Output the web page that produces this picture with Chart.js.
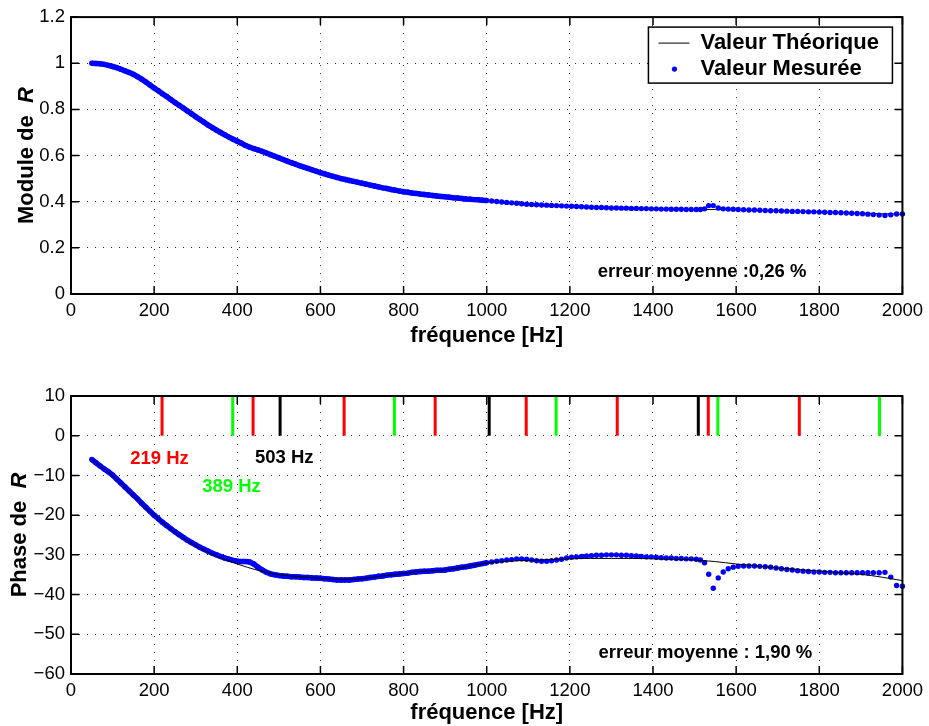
<!DOCTYPE html>
<html>
<head>
<meta charset="utf-8">
<title>Module et phase de R</title>
<script src="https://cdn.jsdelivr.net/npm/chart.js@4.4.1/dist/chart.umd.min.js"></script>
<style>
  html, body { margin: 0; padding: 0; background: #fff; }
  #wrap { position: relative; width: 929px; height: 726px; }
  canvas { position: absolute; left: 0; }
</style>
</head>
<body>
<div id="wrap">
  <canvas id="moduleChart" width="929" height="363" style="top:0"></canvas>
  <canvas id="phaseChart" width="929" height="363" style="top:363px"></canvas>
</div>
<script>
// ---- mesures (frequence en Hz) ----
const freqMes = [
  50,60,70,80,90,100,110,120,130,140,150,160,170,180,190,200,210,220,230,240,
  250,260,270,280,290,300,310,320,330,340,350,360,370,380,390,400,410,420,430,440,
  450,460,470,480,490,500,510,520,530,540,550,560,570,580,590,600,610,620,630,640,
  650,660,670,680,690,700,710,720,730,740,750,760,770,780,790,800,810,820,830,840,
  850,860,870,880,890,900,910,920,930,940,950,960,970,980,990,1000,
  1012,1024,1036,1048,1060,1072,1084,1096,1108,1120,1132,1144,1156,1168,1180,1192,
  1204,1216,1228,1240,1252,1264,1276,1288,1300,1312,1324,1336,1348,1360,1372,1384,
  1396,1408,1420,1432,1444,1456,1468,1480,1492,1504,
  1514,1524,1534,1545,1557,1569,1581,1593,1605,
  1618,1631,1644,1657,1670,1683,1696,1709,1722,1735,1748,1761,1774,1787,1800,1813,
  1826,1839,1852,1865,1878,1891,1904,1917,1930,1944,1958,1972,1986,2000
];

const moduleMes = [
  1.000,0.999,0.998,0.995,0.991,0.986,0.981,0.974,0.967,0.960,
  0.952,0.942,0.931,0.919,0.906,0.893,0.881,0.868,0.856,0.843,
  0.830,0.818,0.806,0.793,0.781,0.768,0.756,0.744,0.732,0.721,
  0.710,0.700,0.690,0.680,0.671,0.662,0.653,0.644,0.636,0.630,
  0.624,0.618,0.611,0.604,0.597,0.590,0.583,0.576,0.569,0.563,
  0.556,0.550,0.544,0.538,0.532,0.526,0.521,0.515,0.510,0.505,
  0.500,0.496,0.492,0.488,0.484,0.480,0.476,0.472,0.468,0.464,
  0.460,0.457,0.453,0.450,0.446,0.443,0.441,0.438,0.436,0.433,
  0.431,0.429,0.427,0.425,0.423,0.421,0.419,0.417,0.416,0.414,
  0.412,0.411,0.409,0.408,0.406,0.405,
  0.403,0.401,0.399,0.397,0.395,0.393,0.391,0.389,0.388,0.387,
  0.386,0.385,0.384,0.383,0.382,0.381,0.380,0.379,0.378,0.377,
  0.376,0.375,0.375,0.374,0.373,0.373,0.372,0.372,0.371,0.371,
  0.370,0.370,0.369,0.369,0.368,0.368,0.367,0.367,0.367,0.366,
  0.366,0.366,
  0.366,0.369,0.383,0.383,0.373,0.369,0.368,0.367,0.366,
  0.365,0.364,0.364,0.363,0.362,0.361,0.361,0.360,0.359,0.358,
  0.358,0.357,0.356,0.356,0.355,0.354,0.353,0.353,0.352,0.351,
  0.350,0.349,0.348,0.346,0.344,0.342,0.340,0.343,0.347,0.347
];

const phaseMes = [
  -6.0,-6.8,-7.6,-8.4,-9.1,-9.9,-10.9,-11.9,-12.9,-13.9,
  -14.9,-15.9,-17.0,-18.0,-19.0,-20.0,-20.9,-21.8,-22.6,-23.4,
  -24.2,-24.9,-25.6,-26.3,-26.9,-27.5,-28.1,-28.6,-29.1,-29.6,
  -30.0,-30.4,-30.8,-31.1,-31.4,-31.6,-31.7,-31.7,-31.8,-32.3,
  -33.1,-33.8,-34.4,-34.8,-35.0,-35.2,-35.3,-35.4,-35.5,-35.5,
  -35.6,-35.7,-35.7,-35.8,-35.8,-35.9,-36.0,-36.1,-36.2,-36.3,
  -36.3,-36.3,-36.3,-36.2,-36.1,-36.0,-35.9,-35.7,-35.6,-35.4,
  -35.3,-35.1,-35.0,-34.9,-34.8,-34.7,-34.6,-34.4,-34.3,-34.2,
  -34.1,-34.1,-34.0,-33.9,-33.9,-33.8,-33.6,-33.5,-33.3,-33.1,
  -33.0,-32.8,-32.6,-32.4,-32.2,-32.0,
  -31.8,-31.6,-31.5,-31.3,-31.2,-31.0,-31.0,-31.1,-31.3,-31.5,
  -31.6,-31.6,-31.5,-31.3,-31.1,-30.8,-30.6,-30.5,-30.4,-30.3,
  -30.2,-30.1,-30.1,-30.0,-30.0,-30.0,-30.1,-30.1,-30.2,-30.3,
  -30.4,-30.5,-30.5,-30.6,-30.7,-30.8,-30.8,-30.9,-30.9,-31.0,
  -31.0,-31.1,
  -31.3,-32.0,-34.9,-38.4,-35.8,-34.3,-33.5,-33.1,-32.9,
  -32.8,-32.8,-32.8,-32.9,-33.0,-33.1,-33.3,-33.5,-33.7,-33.8,
  -34.0,-34.1,-34.2,-34.3,-34.3,-34.4,-34.4,-34.5,-34.5,-34.5,
  -34.5,-34.5,-34.5,-34.5,-34.5,-34.5,-34.4,-35.6,-37.7,-37.9
];

// ---- modele theorique ----
const freqTh = [
  50,100,150,200,250,300,350,400,450,500,550,600,650,700,750,800,850,900,950,1000,
  1050,1100,1150,1200,1250,1300,1350,1400,1450,1500,1550,1600,1650,1700,1750,1800,1850,1900,1950,2000
];
const moduleTh = [
  1.000,0.986,0.952,0.893,0.830,0.768,0.710,0.662,0.624,0.590,
  0.556,0.526,0.500,0.480,0.460,0.443,0.431,0.421,0.412,0.405,
  0.396,0.389,0.384,0.380,0.376,0.373,0.371,0.369,0.367,0.366,
  0.366,0.365,0.363,0.361,0.358,0.355,0.353,0.350,0.348,0.346
];
const phaseTh = [
  -6.0,-10.1,-15.1,-20.1,-24.3,-27.7,-30.3,-32.3,-33.9,-35.0,
  -35.5,-35.9,-36.2,-36.0,-35.3,-34.7,-34.1,-33.8,-33.0,-32.1,
  -31.6,-31.4,-31.2,-31.0,-30.9,-30.9,-30.9,-31.0,-31.1,-31.3,
  -31.7,-32.3,-32.8,-33.3,-33.7,-34.1,-34.5,-34.9,-35.6,-36.5
];

// raies (multiples de 219, 389 et 503 Hz)
const raiesRouges = [219, 438, 657, 876, 1095, 1314, 1533, 1752];
const raiesVertes = [389, 778, 1167, 1556, 1945];
const raiesNoires = [503, 1006, 1509];

// graduations
const xTicks = [0, 200, 400, 600, 800, 1000, 1200, 1400, 1600, 1800, 2000];
const moduleTicks = [0, 0.2, 0.4, 0.6, 0.8, 1, 1.2];
const phaseTicks = [-60, -50, -40, -30, -20, -10, 0, 10];

const police = "'Liberation Sans', Arial, Helvetica, sans-serif";
const BLEU = '#0000ff';
const ROUGE = '#ff0000';
const VERT = '#00ff00';
// en dessous de cette frequence les mesures sont si serrees qu'elles forment un trait
const F_TRAIT = 1000;

function points(xs, ys) {
  return xs.map((x, i) => ({ x: x, y: ys[i] }));
}

function traits(freqs) {
  const pts = [];
  freqs.forEach(f => {
    pts.push({ x: f, y: 0 }, { x: f, y: 10 }, { x: f, y: null });
  });
  return pts;
}

function serieMesuree(data, order) {
  return {
    label: 'Valeur Mesurée',
    data: data,
    showLine: true,
    borderWidth: 5.5,
    borderColor: BLEU,
    segment: {
      borderColor: c => (c.p1.parsed.x <= F_TRAIT ? BLEU : 'rgba(0,0,0,0)')
    },
    pointRadius: 2.7,
    pointHoverRadius: 2.7,
    pointBackgroundColor: BLEU,
    pointBorderWidth: 0,
    clip: 6,
    order: order
  };
}

// cadre facon matlab : boite, graduations interieures, titres, textes
const cadre = {
  id: 'cadre',
  afterDatasetsDraw(chart, args, o) {
    const ctx = chart.ctx;
    const a = chart.chartArea;
    const sx = chart.scales.x, sy = chart.scales.y;
    ctx.save();
    ctx.strokeStyle = '#000';
    ctx.lineWidth = 1.5;
    ctx.beginPath();
    sx.ticks.forEach(t => {
      const px = sx.getPixelForValue(t.value);
      ctx.moveTo(px, a.bottom); ctx.lineTo(px, a.bottom - 8);
      ctx.moveTo(px, a.top); ctx.lineTo(px, a.top + 8);
    });
    sy.ticks.forEach(t => {
      const py = sy.getPixelForValue(t.value);
      ctx.moveTo(a.left, py); ctx.lineTo(a.left + 8, py);
      ctx.moveTo(a.right, py); ctx.lineTo(a.right - 8, py);
    });
    ctx.stroke();
    ctx.lineWidth = 2;
    ctx.strokeRect(a.left, a.top, a.right - a.left, a.bottom - a.top);

    // annotations
    ctx.textAlign = 'center';
    ctx.textBaseline = 'middle';
    ctx.font = 'bold 18.5px ' + police;
    (o.notes || []).forEach(n => {
      ctx.fillStyle = n.color;
      ctx.fillText(n.text, sx.getPixelForValue(n.x), sy.getPixelForValue(n.y));
    });

    // titre de l'axe x
    ctx.fillStyle = '#000';
    ctx.font = 'bold 22px ' + police;
    ctx.fillText('fréquence [Hz]', (a.left + a.right) / 2, o.titreX);

    // titre de l'axe y, avec R en italique
    ctx.save();
    ctx.translate(o.titreYx, (a.top + a.bottom) / 2);
    ctx.rotate(-Math.PI / 2);
    ctx.textAlign = 'left';
    ctx.textBaseline = 'alphabetic';
    const debut = o.titreY + '  ';
    ctx.font = 'bold 22px ' + police;
    const w1 = ctx.measureText(debut).width;
    ctx.font = 'italic bold 22px ' + police;
    const w2 = ctx.measureText('R').width;
    const x0 = -(w1 + w2) / 2;
    ctx.font = 'bold 22px ' + police;
    ctx.fillText(debut, x0, 0);
    ctx.font = 'italic bold 22px ' + police;
    ctx.fillText('R', x0 + w1, 0);
    ctx.restore();

    // legende
    if (o.legende) {
      const bx = a.right - 254, by = a.top + 10, bw = 244, bh = 56;
      ctx.fillStyle = '#fff';
      ctx.fillRect(bx, by, bw, bh);
      ctx.lineWidth = 1.5;
      ctx.strokeStyle = '#000';
      ctx.strokeRect(bx, by, bw, bh);
      ctx.lineWidth = 1;
      ctx.beginPath();
      ctx.moveTo(bx + 10, by + 16);
      ctx.lineTo(bx + 41, by + 16);
      ctx.stroke();
      ctx.fillStyle = BLEU;
      ctx.beginPath();
      ctx.arc(bx + 26, by + 42, 2.6, 0, Math.PI * 2);
      ctx.fill();
      ctx.fillStyle = '#000';
      ctx.font = 'bold 22px ' + police;
      ctx.textAlign = 'left';
      ctx.textBaseline = 'middle';
      ctx.fillText('Valeur Théorique', bx + 52, by + 16);
      ctx.fillText('Valeur Mesurée', bx + 52, by + 42);
    }
    ctx.restore();
  }
};

function axeX(hauteur) {
  return {
    type: 'linear',
    min: 0,
    max: 2000,
    afterBuildTicks: s => { s.ticks = xTicks.map(v => ({ value: v })); },
    afterFit: s => { s.height = hauteur; },
    ticks: {
      color: '#000',
      font: { family: police, size: 18.5 },
      padding: 6,
      maxRotation: 0,
      autoSkip: false,
      callback: v => String(v)
    },
    grid: { color: 'rgba(0,0,0,0.85)', lineWidth: 1, drawTicks: false },
    border: { display: false, dash: [1, 7] }
  };
}

function axeY(min, max, valeurs, format) {
  return {
    type: 'linear',
    min: min,
    max: max,
    afterBuildTicks: s => { s.ticks = valeurs.map(v => ({ value: v })); },
    afterFit: s => { s.width = 71; },
    ticks: {
      color: '#000',
      font: { family: police, size: 18.5 },
      padding: 6,
      callback: format
    },
    grid: { color: 'rgba(0,0,0,0.85)', lineWidth: 1, drawTicks: false },
    border: { display: false, dash: [1, 7] }
  };
}

new Chart(document.getElementById('moduleChart'), {
  type: 'line',
  data: {
    datasets: [
      serieMesuree(points(freqMes, moduleMes), 1),
      {
        label: 'Valeur Théorique',
        data: points(freqTh, moduleTh),
        borderColor: '#000',
        borderWidth: 1,
        pointRadius: 0,
        cubicInterpolationMode: 'monotone',
        order: 2
      }
    ]
  },
  options: {
    responsive: false,
    animation: false,
    devicePixelRatio: 1,
    layout: { padding: { left: 0, right: 24, top: 16, bottom: 0 } },
    scales: {
      x: axeX(69),
      y: axeY(0, 1.2, moduleTicks, v => String(Number(v.toFixed(1))))
    },
    plugins: {
      legend: { display: false },
      tooltip: { enabled: false },
      cadre: {
        titreX: 336,
        titreYx: 33,
        titreY: 'Module de',
        legende: true,
        notes: [
          { text: 'erreur moyenne :0,26 %', x: 1518, y: 0.095, color: '#000' }
        ]
      }
    }
  },
  plugins: [cadre]
});

new Chart(document.getElementById('phaseChart'), {
  type: 'line',
  data: {
    datasets: [
      {
        label: 'Valeur Théorique',
        data: points(freqTh, phaseTh),
        borderColor: '#000',
        borderWidth: 1,
        pointRadius: 0,
        cubicInterpolationMode: 'monotone',
        order: 0
      },
      serieMesuree(points(freqMes, phaseMes), 1),
      { label: '219 Hz', data: traits(raiesRouges), borderColor: ROUGE, borderWidth: 3, pointRadius: 0, spanGaps: false, order: 2 },
      { label: '389 Hz', data: traits(raiesVertes), borderColor: VERT, borderWidth: 3, pointRadius: 0, spanGaps: false, order: 2 },
      { label: '503 Hz', data: traits(raiesNoires), borderColor: '#000', borderWidth: 3, pointRadius: 0, spanGaps: false, order: 2 }
    ]
  },
  options: {
    responsive: false,
    animation: false,
    devicePixelRatio: 1,
    layout: { padding: { left: 0, right: 24, top: 33, bottom: 0 } },
    scales: {
      x: axeX(52),
      y: axeY(-60, 10, phaseTicks, v => (v < 0 ? '\u2212' + Math.abs(v) : String(v)))
    },
    plugins: {
      legend: { display: false },
      tooltip: { enabled: false },
      cadre: {
        titreX: 350,
        titreYx: 26,
        titreY: 'Phase de',
        legende: false,
        notes: [
          { text: '219 Hz', x: 213, y: -5.9, color: ROUGE },
          { text: '389 Hz', x: 386, y: -12.8, color: VERT },
          { text: '503 Hz', x: 513, y: -5.5, color: '#000' },
          { text: 'erreur moyenne : 1,90 %', x: 1526, y: -54.7, color: '#000' }
        ]
      }
    }
  },
  plugins: [cadre]
});
</script>
</body>
</html>
